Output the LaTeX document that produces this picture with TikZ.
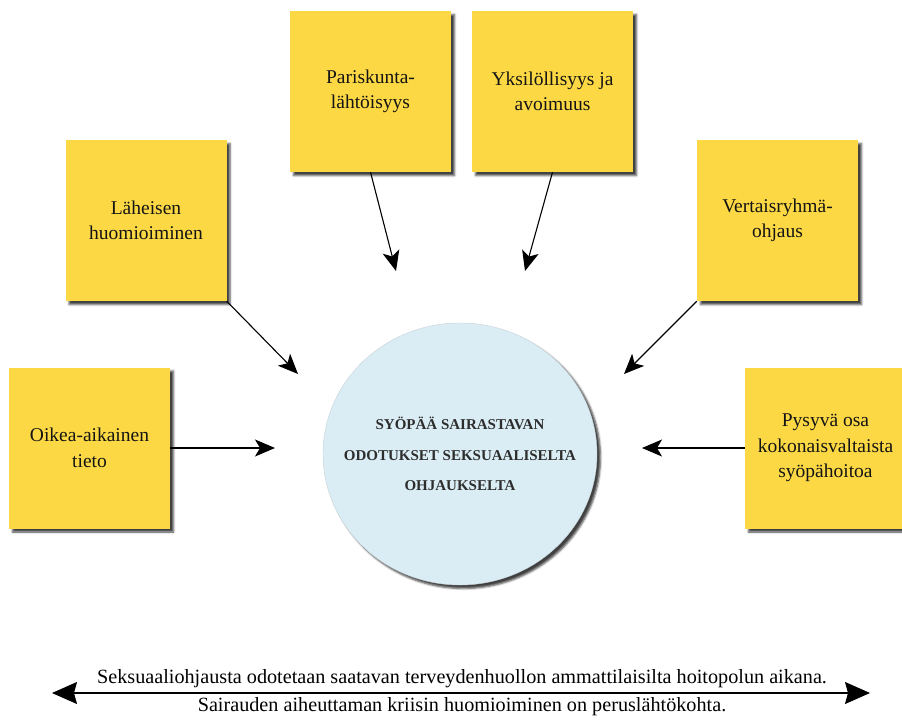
\documentclass[tikz,border=0pt]{standalone}
\usepackage{fontspec}
\setmainfont{Liberation Serif}
\usetikzlibrary{arrows.meta,shapes.geometric,shadows.blur}

\definecolor{notey}{RGB}{252,217,68}
\definecolor{hubfill}{RGB}{219,237,244}
\definecolor{hubline}{RGB}{196,210,216}
\definecolor{hubtext}{RGB}{45,45,45}

\tikzset{
  softshadow/.style={blur shadow={shadow xshift=3.5pt, shadow yshift=-3.5pt,
      shadow blur radius=2pt, shadow opacity=75}},
  note/.style={fill=notey, minimum width=161pt, minimum height=161pt,
      inner sep=0pt, align=center, text=black!92,
      font=\fontsize{19.5}{25.5}\selectfont, softshadow},
  hub/.style={ellipse, fill=hubfill, draw=hubline, line width=0.4pt,
      minimum width=274pt, minimum height=262pt, inner sep=0pt, softshadow},
  hublabel/.style={align=center, text=hubtext, inner sep=0pt,
      font=\bfseries\fontsize{15}{30.5}\selectfont},
  link/.style={line width=1.1pt, -{Stealth[length=20pt,width=17pt,inset=5pt]}},
  bigtip/.style={line width=1.1pt,
      {Stealth[length=25pt,width=22pt,inset=3pt]}-{Stealth[length=25pt,width=22pt,inset=3pt]}},
  caption/.style={font=\fontsize{20.2}{24}\selectfont, inner sep=0pt},
}

\begin{document}
\begin{tikzpicture}[x=1pt, y=-1pt]
  \useasboundingbox (0,0) rectangle (902,720);

  % central topic
  \node[hub] (hub) at (460,454) {};
  \node[hublabel] (hubtxt) at (hub.center)
    {SYÖPÄÄ SAIRASTAVAN\\ODOTUKSET SEKSUAALISELTA\\OHJAUKSELTA};

  % surrounding notes
  \node[note] (par) at (370.5,91.5) {Pariskunta-\\lähtöisyys};
  \node[note] (yks) at (552.5,91.5) {Yksilöllisyys ja\\avoimuus};
  \node[note] (lah) at (146,220.5)  {Läheisen\\huomioiminen};
  \node[note] (ver) at (777.5,220.5) {Vertaisryhmä-\\ohjaus};
  \node[note] (oik) at (89.5,448)   {Oikea-aikainen\\tieto};
  \node[note] (pys) at (825.5,448)  {Pysyvä osa\\kokonaisvaltaista\\syöpähoitoa};

  % arrow tips pointing toward the centre
  \coordinate (tpar) at (396,271);
  \coordinate (tyks) at (525,271);
  \coordinate (tlah) at (298,374);
  \coordinate (tver) at (624,374);
  \coordinate (toik) at (275,448);
  \coordinate (tpys) at (642,448);

  \draw[link] (par.south) -- (tpar);
  \draw[link] (yks.south) -- (tyks);
  \draw[link] (lah.south east) -- (tlah);
  \draw[link] (ver.south west) -- (tver);
  \draw[link] (oik.east) -- (toik);
  \draw[link] (pys.west) -- (tpys);

  % bottom statement with double arrow
  \node[caption] (capa) at (462,679)
    {Seksuaaliohjausta odotetaan saatavan terveydenhuollon ammattilaisilta hoitopolun aikana.};
  \node[caption] (capb) at (462,707)
    {Sairauden aiheuttaman kriisin huomioiminen on peruslähtökohta.};
  \coordinate (left) at (52,693);
  \coordinate (right) at (870,693);
  \draw[bigtip] (left) -- (right);
\end{tikzpicture}
\end{document}
